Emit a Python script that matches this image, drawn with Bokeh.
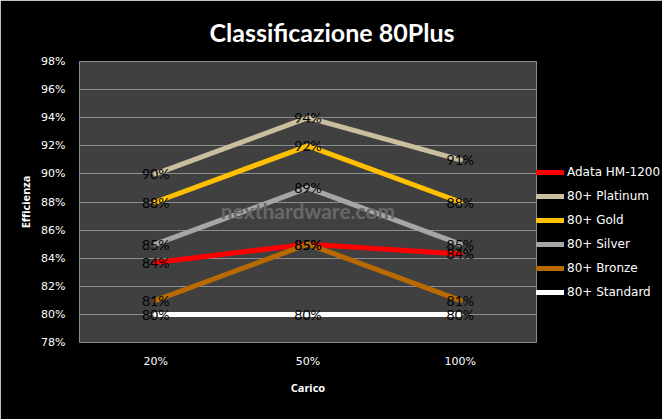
from bokeh.plotting import figure
from bokeh.models import ColumnDataSource, Legend, LegendItem, Label, PrintfTickFormatter, FixedTicker, Range1d
from bokeh.embed import file_html
from bokeh.resources import INLINE
from bokeh.core.properties import value

loads = ["20%", "50%", "100%"]
series_names = ["Adata HM-1200", "80+ Platinum", "80+ Gold", "80+ Silver", "80+ Bronze", "80+ Standard"]
adata = [83.7, 85.0, 84.3]
platinum = [90, 94, 91]
gold = [88, 92, 88]
silver = [85, 89, 85]
bronze = [81, 85, 81]
standard = [80, 80, 80]
colors = ["#FF0000", "#C9BF9F", "#FFC000", "#A6A6A6", "#B86A00", "#FFFFFF"]
y_ticks = [78, 80, 82, 84, 86, 88, 90, 92, 94, 96, 98]

series = [adata, platinum, gold, silver, bronze, standard]

p = figure(x_range=loads, y_range=Range1d(78, 98), width=662, height=419,
           frame_width=457, frame_height=281,
           output_backend="svg", toolbar_location=None,
           min_border_left=79, min_border_right=0, min_border_top=61, min_border_bottom=77,
           background_fill_color="#404040", border_fill_color="#000000")

p.title.text = "Classificazione 80Plus"
p.title.text_color = "white"
p.title.text_font = "Lato"
p.title.text_font_size = "25px"
p.title.text_font_style = "bold"
p.title.align = "left"
p.title.offset = 130
p.title.standoff = 29

p.outline_line_color = "#8C8C8C"
p.outline_line_width = 1
p.xgrid.grid_line_color = None
p.ygrid.grid_line_color = "#8C8C8C"
p.ygrid.grid_line_width = 1
p.yaxis.ticker = FixedTicker(ticks=y_ticks)
p.yaxis.formatter = PrintfTickFormatter(format="%d%%")

for ax in (p.xaxis, p.yaxis):
    ax.axis_line_color = None
    ax.major_tick_line_color = None
    ax.minor_tick_line_color = None
    ax.major_label_text_color = "white"
    ax.major_label_text_font = "DejaVu Sans"
    ax.major_label_text_font_size = "11px"
    ax.axis_label_text_color = "white"
    ax.axis_label_text_font = "Noto Sans"
    ax.axis_label_text_font_size = "11px"
    ax.axis_label_text_font_style = "bold"

p.yaxis.axis_label = "Efficienza"
p.yaxis.major_label_standoff = 8
p.yaxis.axis_label_standoff = 5
p.xaxis.axis_label = "Carico"
p.xaxis.major_label_standoff = 6
p.xaxis.axis_label_standoff = 9

wm = Label(x=1.5, y=87.4, text="nexthardware.com", text_color="#686868",
           text_font="Lato", text_font_size="21px", text_font_style="bold",
           text_align="center", text_baseline="middle")
p.add_layout(wm)

items = []
for name, vals, col in zip(series_names, series, colors):
    src = ColumnDataSource(dict(x=loads, y=vals))
    r = p.line("x", "y", source=src, line_color=col, line_width=5, line_cap="round")
    items.append(LegendItem(label=name, renderers=[r]))

for name, vals, col in zip(series_names, series, colors):
    src = ColumnDataSource(dict(x=loads, y=vals, lab=["%d%%" % round(v) for v in vals]))
    p.text("x", "y", text="lab", source=src, text_color="black", text_font=value("Lato"),
           text_font_size="14px", text_align="center", text_baseline="middle")

legend = Legend(items=items, location=(0, 38), background_fill_alpha=0,
                border_line_color=None, padding=0, margin=0, spacing=0,
                glyph_width=28, glyph_height=24, label_height=24, label_standoff=3,
                label_text_color="white", label_text_font="DejaVu Sans", label_text_font_size="12px")
p.add_layout(legend, "right")

open("out.html", "w").write(file_html(p, INLINE))
